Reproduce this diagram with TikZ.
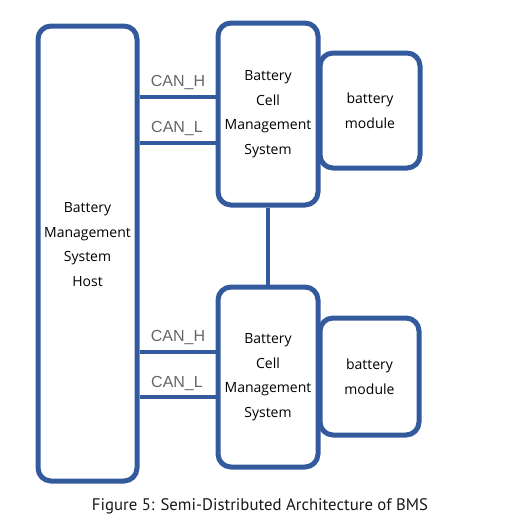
\documentclass[tikz,border=0pt]{standalone}
\usepackage{fontspec}
\setmainfont{Open Sans}
\newfontfamily\canfont{Liberation Sans}
\newfontfamily\capfont{PT Sans}
\definecolor{bmsblue}{RGB}{52,90,158}
\begin{document}
\begin{tikzpicture}[x=1pt, y=-1pt,
    unit/.style={draw=bmsblue, line width=5pt, rounded corners=13pt, align=center,
      font=\fontsize{14}{24.5}\selectfont, inner sep=0pt},
    bus/.style={draw=bmsblue, line width=4pt},
    canlabel/.style={text=black!60, font=\canfont\fontsize{16}{16}\selectfont}]
  \useasboundingbox (0,0) rectangle (510,523);
  % host and the two cell management units
  \node[unit, minimum width=99pt, minimum height=455pt] (host) at (87.5,253.5) {};
  \node[align=center, font=\fontsize{14}{24.5}\selectfont] (hostname)
    at ([yshift=9pt]host.center) {Battery\\Management\\System\\Host};
  \node[unit, minimum width=100pt, minimum height=182pt] (bcmsA) at (268,114)
    {Battery\\Cell\\Management\\System};
  \node[unit, minimum width=100pt, minimum height=115pt] (modA) at (370,110.5)
    {battery\\module};
  \node[unit, minimum width=100pt, minimum height=180pt] (bcmsB) at (268,377)
    {Battery\\Cell\\Management\\System};
  \node[unit, minimum width=99pt, minimum height=117pt] (modB) at (369.5,376.5)
    {battery\\module};
  % CAN bus lines
  \draw[bus] (host.east |- 0,97) -- (bcmsA.west |- 0,97);
  \draw[bus] (host.east |- 0,143) -- (bcmsA.west |- 0,143);
  \draw[bus] (host.east |- 0,352) -- (bcmsB.west |- 0,352);
  \draw[bus] (host.east |- 0,397) -- (bcmsB.west |- 0,397);
  \draw[bus] (bcmsA) -- (bcmsB);
  \node[canlabel] (canHa) at (178,82) {CAN\_H};
  \node[canlabel] (canLa) at (177,128) {CAN\_L};
  \node[canlabel] (canHb) at (178,337) {CAN\_H};
  \node[canlabel] (canLb) at (177,383) {CAN\_L};
  % caption
  \node[text=black!90, font=\capfont] (caption) at (260,506)
    {\resizebox{336pt}{!}{Figure 5: Semi-Distributed Architecture of BMS}};
\end{tikzpicture}
\end{document}
